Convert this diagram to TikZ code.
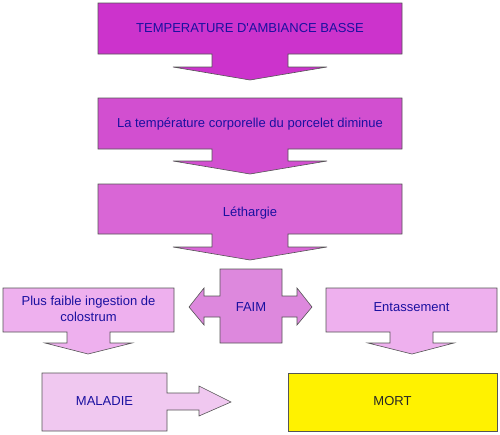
\documentclass[tikz,border=0pt]{standalone}
\usepackage{fontspec}
\setmainfont{Liberation Sans}
\definecolor{cA}{HTML}{CC33CC}
\definecolor{cB}{HTML}{D24FD0}
\definecolor{cC}{HTML}{D966D6}
\definecolor{cD}{HTML}{DD88DD}
\definecolor{cE}{HTML}{EEB0EE}
\definecolor{cF}{HTML}{F0C8F0}
\definecolor{txt}{HTML}{1A10A0}
\definecolor{edge}{HTML}{555555}
\begin{document}
\begin{tikzpicture}[x=1pt,y=-1pt,
  shp/.style={draw=edge, line width=0.6pt, line join=miter},
  lbl/.style={text=txt, font=\fontsize{13}{15.5}\selectfont, align=center, inner sep=0pt}]
\useasboundingbox (0,0) rectangle (500,434);
% box 1
\path[shp, fill=cA] (98,3) -- (402,3) -- (402,54) -- (288,54) -- (288,67) -- (327,67) -- (250,80) -- (173,67) -- (212,67) -- (212,54) -- (98,54) -- cycle;
\node[lbl] (t1) at (250,28) {TEMPERATURE D\textquotesingle AMBIANCE BASSE};
% box 2
\path[shp, fill=cB] (98,98) -- (402,98) -- (402,149) -- (288,149) -- (288,161) -- (327,161) -- (250,174) -- (173,161) -- (212,161) -- (212,149) -- (98,149) -- cycle;
\node[lbl] (t2) at (250,124) {La température corporelle du porcelet diminue};
% box 3
\path[shp, fill=cC] (98,184) -- (402,184) -- (402,234) -- (288,234) -- (288,247) -- (327,247) -- (250,260) -- (173,247) -- (212,247) -- (212,234) -- (98,234) -- cycle;
\node[lbl] (t3) at (250,213) {Léthargie};
% FAIM
\path[shp, fill=cD] (220,269) -- (282,269) -- (282,296) -- (297,296) -- (297,288) -- (312,307) -- (297,325) -- (297,317) -- (282,317) -- (282,343) -- (220,343) -- (220,317) -- (204,317) -- (204,325) -- (189,307) -- (204,288) -- (204,296) -- (220,296) -- cycle;
\node[lbl] (t4) at (251,307) {FAIM};
% Plus faible
\path[shp, fill=cE] (3,288) -- (174,288) -- (174,332) -- (110,332) -- (110,343) -- (132,343) -- (88,354) -- (45,343) -- (67,343) -- (67,332) -- (3,332) -- cycle;
\node[lbl] (t5) at (88.5,309) {Plus faible ingestion de\\colostrum};
% Entassement
\path[shp, fill=cE] (326,288) -- (497,288) -- (497,332) -- (433,332) -- (433,343) -- (454,343) -- (412,354) -- (368,343) -- (390,343) -- (390,332) -- (326,332) -- cycle;
\node[lbl] (t6) at (411.5,307) {Entassement};
% MALADIE
\path[shp, fill=cF] (42,373) -- (167,373) -- (167,393) -- (199,393) -- (199,386) -- (231,402) -- (199,416) -- (199,410) -- (167,410) -- (167,431) -- (42,431) -- cycle;
\node[lbl] (t7) at (104.5,401) {MALADIE};
% MORT
\path[shp, fill=yellow] (288,373) rectangle (497,431);
\node[lbl, text=black!85] (t8) at (392.5,401) {MORT};
\end{tikzpicture}
\end{document}
